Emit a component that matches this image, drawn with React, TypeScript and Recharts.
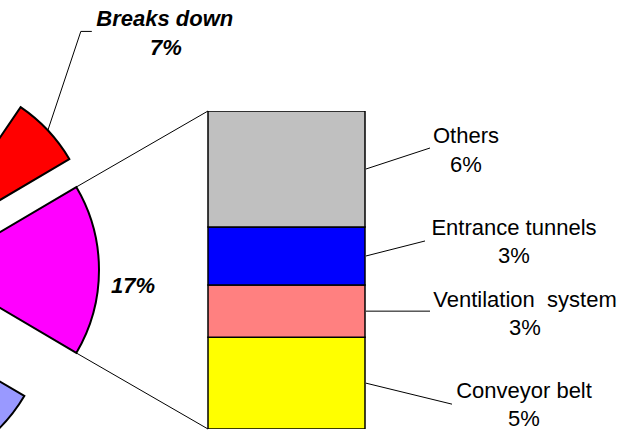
import React from 'react';
import { PieChart, Pie, Cell, BarChart, Bar, XAxis, YAxis } from 'recharts';

// main pie, counter-clockwise from the split-off slice
const pieNames = ['Other causes', 'Breaks down', 'Remaining causes', 'Misc. causes'];
const pieValues = [17, 7, 46, 30];
const pieColors = ['#FF00FF', '#FF0000', '#99CC00', '#9999FF'];

// bar of pie, stacked bottom to top
const barNames = ['Conveyor belt', 'Ventilation  system', 'Entrance tunnels', 'Others'];
const barValues = [4.9, 2.8, 3.1, 6.2];
const barColors = ['#FFFF00', '#FF8080', '#0000FF', '#C0C0C0'];

const W = 619;
const H = 433;
const FONT = '"Liberation Sans", Arial, sans-serif';
const RAD = Math.PI / 180;

// pie layout (center is off the left edge)
const PIE_CX = -120;
const PIE_CY = 270;
const PIE_R = 163;
const explode: [number, number][] = [[56, 0], [49, -28], [0, 0], [4, 43]];

// bar layout
const BAR = { top: 111, right: W - 365, bottom: H - 429, left: 208 };

// label offsets per bar segment: leader end (dx, dy), text center (tx, ty)
const barLabelPos = [
  { dx: 87, dy: 21, tx: 159, ty: 7 },
  { dx: 65, dy: 0, tx: 160, ty: -12 },
  { dx: 60, dy: -15, tx: 149, ty: -28.5 },
  { dx: 65, dy: -21, tx: 101, ty: -33 },
];

const pieTotal = pieValues.reduce((a, b) => a + b, 0);
const pieData = pieNames.map((name, i) => ({ name, value: pieValues[i] }));
const barKeys = barNames.map((_, i) => `s${i}`);
const barRow: Record<string, number | string> = { name: pieNames[0] };
barKeys.forEach((k, i) => (barRow[k] = barValues[i]));
const barData = [barRow];
const barTotal = barValues.reduce((a, b) => a + b, 0);

const startAngle = -(pieValues[0] / pieTotal) * 180;
const pct = (v: number) => `${Math.round((v / pieTotal) * 100)}%`;

const labelStyle = { fontFamily: FONT, fontSize: 22, fontWeight: 700, fontStyle: 'italic' as const };

const renderPieLabel = (k: number) => (p: any) => {
  if (p.index !== k) return null;
  const px = p.cx + p.outerRadius * Math.cos(-p.midAngle * RAD);
  const py = p.cy + p.outerRadius * Math.sin(-p.midAngle * RAD);
  if (k === 0) {
    return (
      <text x={px + 34} y={py + 15.5} textAnchor="middle" dominantBaseline="central" fill="#000" style={labelStyle}>
        {pct(pieValues[k])}
      </text>
    );
  }
  return (
    <g>
      <polyline points={`${px},${py} ${px + 33},${py - 99} ${px + 44},${py - 99}`} fill="none" stroke="#000" strokeWidth={1} />
      <text x={px + 117} y={py - 112} textAnchor="middle" dominantBaseline="central" fill="#000" style={labelStyle}>
        {pieNames[k]}
      </text>
      <text x={px + 118} y={py - 83} textAnchor="middle" dominantBaseline="central" fill="#000" style={labelStyle}>
        {pct(pieValues[k])}
      </text>
    </g>
  );
};

const renderBarLabel = (i: number) => (p: any) => {
  const pos = barLabelPos[i];
  const right = Number(p.x) + Number(p.width);
  const mid = Number(p.y) + Number(p.height) / 2;
  const ts = { fontFamily: FONT, fontSize: 22, whiteSpace: 'pre' as const };
  return (
    <g>
      <line x1={right + 1} y1={mid} x2={right + pos.dx} y2={mid + pos.dy} stroke="#000" strokeWidth={1} />
      <text x={right + pos.tx} y={mid + pos.ty} textAnchor="middle" dominantBaseline="central" fill="#000" style={ts}>
        {barNames[i]}
      </text>
      <text x={right + pos.tx} y={mid + pos.ty + 28.5} textAnchor="middle" dominantBaseline="central" fill="#000" style={ts}>
        {pct(barValues[i])}
      </text>
    </g>
  );
};

export default function App() {
  // series lines from the split-off slice to the bar
  const half = (pieValues[0] / pieTotal) * 180 * RAD;
  const mcx = PIE_CX + explode[0][0];
  const mcy = PIE_CY + explode[0][1];
  const topCorner = [mcx + PIE_R * Math.cos(half), mcy - PIE_R * Math.sin(half)];
  const botCorner = [mcx + PIE_R * Math.cos(half), mcy + PIE_R * Math.sin(half)];

  return (
    <div style={{ position: 'relative', width: W, height: H, background: '#fff', overflow: 'hidden' }}>
      <style>{'body{margin:0}'}</style>
      <svg width={W} height={H} style={{ position: 'absolute', left: 0, top: 0 }}>
        <line x1={topCorner[0]} y1={topCorner[1]} x2={BAR.left} y2={BAR.top} stroke="#000" strokeWidth={1} />
        <line x1={botCorner[0]} y1={botCorner[1]} x2={BAR.left} y2={H - BAR.bottom} stroke="#000" strokeWidth={1} />
      </svg>
      <div style={{ position: 'absolute', left: 0, top: 0 }}>
        <PieChart width={W} height={H} margin={{ top: 0, right: 0, bottom: 0, left: 0 }}>
          {pieData.map((_, k) => (
            <Pie
              key={k}
              data={pieData}
              dataKey="value"
              nameKey="name"
              cx={PIE_CX + explode[k][0]}
              cy={PIE_CY + explode[k][1]}
              outerRadius={PIE_R}
              startAngle={startAngle}
              endAngle={startAngle + 360}
              isAnimationActive={false}
              label={k < 2 ? renderPieLabel(k) : false}
              labelLine={false}
            >
              {pieData.map((__, j) => (
                <Cell key={j} fill={j === k ? pieColors[j] : 'none'} stroke={j === k ? '#000' : 'none'} strokeWidth={2} />
              ))}
            </Pie>
          ))}
        </PieChart>
      </div>
      <div style={{ position: 'absolute', left: 0, top: 0 }}>
        <BarChart width={W} height={H} data={barData} margin={BAR} barCategoryGap={0}>
          <XAxis dataKey="name" hide />
          <YAxis hide domain={[0, barTotal]} allowDataOverflow />
          {barKeys.map((key, i) => (
            <Bar
              key={key}
              dataKey={key}
              stackId="bar"
              fill={barColors[i]}
              stroke="#000"
              strokeWidth={1.5}
              isAnimationActive={false}
              label={renderBarLabel(i)}
            />
          ))}
        </BarChart>
      </div>
    </div>
  );
}
